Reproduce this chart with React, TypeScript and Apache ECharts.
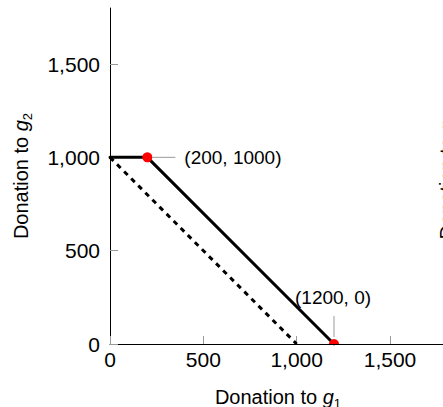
import React, { useEffect, useRef } from "react";
import * as echarts from "echarts";

const tickValues = [0, 500, 1000, 1500];
const axisMax = 1800;
const solidLine = [[0, 1000], [200, 1000], [1200, 0]];
const dashedLine = [[0, 1000], [1000, 0]];
const keyPoints = [[200, 1000], [1200, 0]];
const pointLabels = ["(200, 1000)", "(1200, 0)"];

const FONT = "'Liberation Sans', Arial, Helvetica, sans-serif";

const nameRich = {
  n: { fontSize: 20, color: "#000", fontFamily: FONT, lineHeight: 26, verticalAlign: "middle" },
  i: { fontSize: 20, color: "#000", fontFamily: FONT, fontStyle: "italic", lineHeight: 26, verticalAlign: "middle" },
  s: { fontSize: 13, color: "#000", fontFamily: FONT, lineHeight: 26, verticalAlign: "bottom" },
};

export default function App() {
  const ref = useRef<HTMLDivElement>(null);
  useEffect(() => {
    if (!ref.current) return;
    const chart = echarts.init(ref.current, undefined, { renderer: "svg" });
    const fmt = (v: number) => v.toLocaleString("en-US");
    const axisCommon = {
      type: "value",
      min: 0,
      max: axisMax,
      interval: 500,
      splitLine: { show: false },
      axisLine: { show: true, lineStyle: { color: "#000", width: 1 } },
      axisTick: { show: true, inside: true, length: 8, customValues: tickValues, lineStyle: { color: "#999", width: 1 } },
      axisLabel: { customValues: tickValues, formatter: fmt, fontSize: 21, color: "#000", fontFamily: FONT },
      nameLocation: "middle",
    };
    chart.setOption({
      animation: false,
      textStyle: { fontFamily: FONT },
      grid: { left: 110, top: 8, width: 336, height: 336, containLabel: false, outerBoundsMode: "none" },
      xAxis: {
        ...axisCommon,
        axisLabel: { ...axisCommon.axisLabel, margin: 5 },
        name: "{n|Donation to }{i|g}{s|1}",
        nameGap: 40,
        nameTextStyle: { rich: nameRich },
      },
      yAxis: {
        ...axisCommon,
        axisLabel: { ...axisCommon.axisLabel, margin: 10 },
        name: "{n|Donation to }{i|g}{s|2}",
        nameGap: 76,
        nameTextStyle: { rich: nameRich },
      },
      series: [
        {
          type: "line",
          data: dashedLine,
          symbol: "none",
          lineStyle: { color: "#000", width: 3, type: [5, 5] },
          z: 2,
        },
        {
          type: "line",
          data: solidLine,
          symbol: "none",
          lineStyle: { color: "#000", width: 3, cap: "round" },
          z: 3,
        },
        {
          type: "custom",
          clip: true,
          data: keyPoints,
          z: 4,
          renderItem: (params: any, api: any) => {
            const p = api.coord([api.value(0), api.value(1)]);
            return { type: "circle", shape: { cx: p[0], cy: p[1], r: 5 }, style: { fill: "#ff0000" } };
          },
        },
      ],
    });

    const p0 = chart.convertToPixel({ gridIndex: 0 }, keyPoints[0]) as number[];
    const p1 = chart.convertToPixel({ gridIndex: 0 }, keyPoints[1]) as number[];
    const labelStyle = { fill: "#000", fontSize: 19, fontFamily: FONT };
    chart.setOption({
      graphic: [
        { type: "line", shape: { x1: p0[0] + 5, y1: p0[1], x2: p0[0] + 28, y2: p0[1] }, style: { stroke: "#999", lineWidth: 1 }, z: 10 },
        { type: "text", x: p0[0] + 37, y: p0[1], style: { ...labelStyle, text: pointLabels[0], align: "left", verticalAlign: "middle" }, z: 10 },
        { type: "line", shape: { x1: p1[0], y1: p1[1] - 7, x2: p1[0], y2: p1[1] - 28 }, style: { stroke: "#999", lineWidth: 1 }, z: 10 },
        { type: "text", x: p1[0] - 1, y: p1[1] - 47, style: { ...labelStyle, text: pointLabels[1], align: "center", verticalAlign: "middle" }, z: 10 },
        {
          type: "text",
          x: 447,
          y: 176,
          rotation: Math.PI / 2,
          style: { text: "Donation to g₂", fill: "#000", fontSize: 20, fontFamily: FONT, align: "center", verticalAlign: "middle" },
          z: 10,
        },
      ],
    });
    return () => chart.dispose();
  }, []);
  return <div ref={ref} style={{ position: "absolute", left: 0, top: 0, width: 443, height: 407 }} />;
}
